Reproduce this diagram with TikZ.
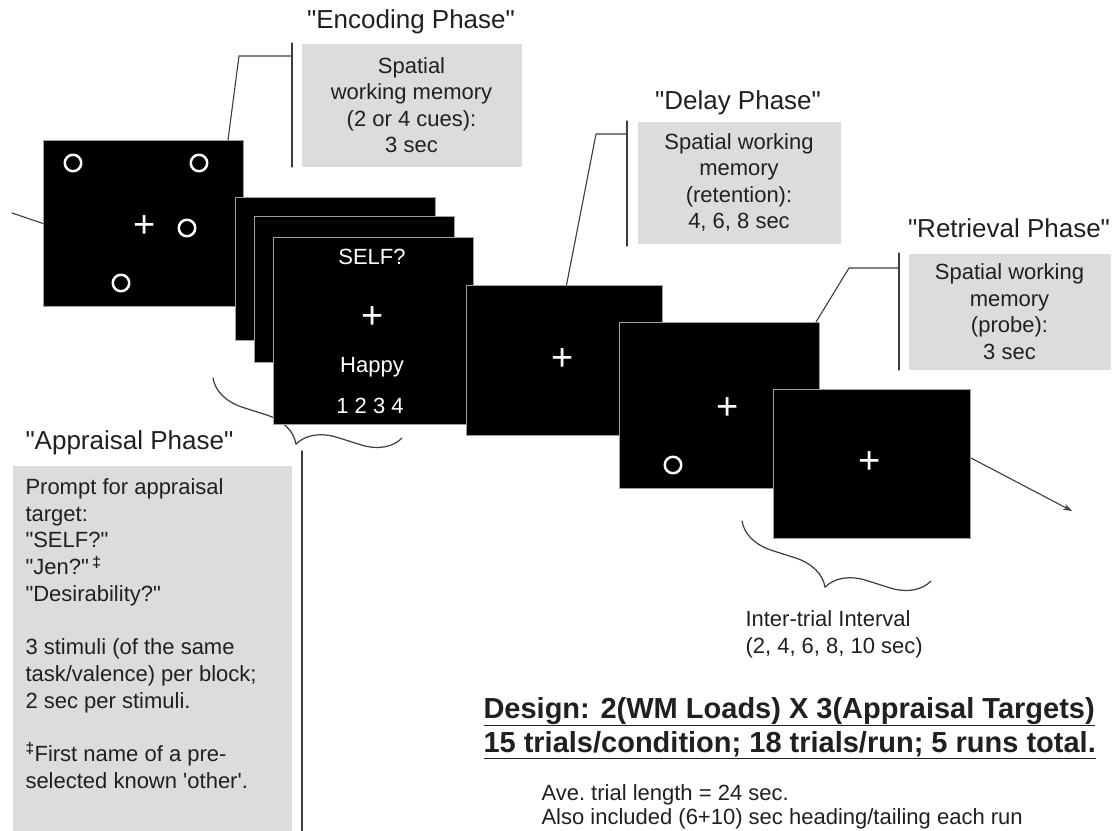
\documentclass[tikz,border=0pt]{standalone}
\usepackage{fontspec}
\setmainfont{Liberation Sans}[Ligatures=TeXOff]
\usetikzlibrary{positioning, arrows.meta, decorations.pathreplacing}
\definecolor{figink}{HTML}{202020}
\definecolor{figline}{HTML}{3C3C3C}
\definecolor{notefill}{HTML}{DCDCDC}
\definecolor{scredge}{HTML}{A0A0A0}

\begin{document}
\begin{tikzpicture}[
  x=1pt, y=-1pt,
  line width=1pt, line cap=round, line join=round,
  >={Stealth[length=9pt, width=6pt]},
  scr/.style  = {draw=scredge, fill=black, line width=1pt,
                 anchor=north west, inner sep=0pt},
  note/.style = {fill=notefill, anchor=north west, inner sep=0pt,
                 align=center, text=figink, font=\fontsize{22}{26.5}\selectfont},
  ttl/.style  = {text=figink, inner sep=0pt, font=\fontsize{26}{30}\selectfont},
  txt/.style  = {text=figink, inner sep=0pt, align=left,
                 font=\fontsize{22}{26.7}\selectfont},
  wtxt/.style = {text=white, inner sep=0pt, font=\fontsize{22}{26}\selectfont},
  fix/.style  = {text=white, inner sep=0pt, font=\fontsize{38}{38}\selectfont},
  cue/.style  = {circle, draw=white, line width=2.5pt, minimum size=16.5pt, inner sep=0pt},
  lead/.style = {draw=figline, line width=1.1pt},
  brc/.style  = {draw=figline, line width=1.2pt, decorate,
                 decoration={brace, amplitude=38pt}},
  big/.style  = {text=figink, inner sep=0pt, anchor=base west,
                 font=\fontsize{29}{34}\selectfont\bfseries}
]
\useasboundingbox (0,0) rectangle (1119,830);

% 括号（被屏幕遮住一部分）
\coordinate (bra) at (213,378);
\coordinate (brb) at (402,438);
\coordinate (bri) at (742,521);
\coordinate (brj) at (931,581);
\draw[brc] (brb) -- (bra);
\draw[brc] (brj) -- (bri);

% 编码屏
\node[scr, minimum width=200pt, minimum height=166pt] (enc) at (43,140) {};
\node[cue] (c1) at (73,163)  {};
\node[cue] (c2) at (199,163) {};
\node[cue] (c3) at (187,228) {};
\node[cue] (c4) at (121,283) {};
\node[fix] (f1) at (145,227) {+};

% 评价屏（三张叠放）
\node[scr, minimum width=200pt, minimum height=143pt] (app1) at (235,197) {};
\node[scr, minimum width=200pt, minimum height=146pt] (app2) at (254,216) {};
\node[scr, minimum width=200pt, minimum height=187pt] (app3) at (273,237) {};
\node[wtxt] (self) at (372,257) {SELF?};
\node[fix]  (f2)   at (373,318) {+};
\node[wtxt] (word) at (372,367) {Happy};
\node[wtxt] (rate) at (370,406) {1 2 3 4};

% 延迟、提取、间隔屏
\node[scr, minimum width=196pt, minimum height=150pt] (del) at (466,285) {};
\node[fix] (f3) at (563,360) {+};
\node[scr, minimum width=200pt, minimum height=166pt] (ret) at (619,322) {};
\node[fix] (f4) at (728,409) {+};
\node[cue] (c5) at (673,465) {};
\node[scr, minimum width=197pt, minimum height=149pt] (iti) at (773,389) {};
\node[fix] (f5) at (870,463) {+};

% 进出连线
\coordinate (prev) at (12,213);
\coordinate (next) at (1072,511);
\draw[lead] (prev) -- (enc.west);
\draw[lead, ->] ([yshift=6pt]iti.east) -- (next);

% 说明框
\node[ttl] (enct) at (411,22) {"Encoding Phase"};
\node[note, minimum width=220pt, minimum height=123pt] (encbox) at (301,43)
  {Spatial\\working memory\\(2 or 4 cues):\\3 sec};
\node[ttl] (delt) at (738,103) {"Delay Phase"};
\node[note, minimum width=203pt, minimum height=122pt] (delbox) at (637,121)
  {Spatial working\\memory\\(retention):\\4, 6, 8 sec};
\node[ttl] (rett) at (1009,228) {"Retrieval Phase"};
\node[note, minimum width=202pt, minimum height=116pt] (retbox) at (908,253)
  {Spatial working\\memory\\(probe):\\3 sec};

% 引线：屏幕 -> 竖线
\coordinate (encbar) at ([xshift=-9pt]encbox.north west);
\coordinate (delbar) at ([xshift=-10pt]delbox.north west);
\coordinate (retbar) at ([xshift=-9pt]retbox.north west);
\coordinate (encelb) at (239,56);
\coordinate (delelb) at (596,134);
\coordinate (retelb) at (849,268);
\draw[lead] (encbar) -- ([xshift=-9pt]encbox.south west);
\draw[lead] (delbar) -- ([xshift=-10pt, yshift=-2pt]delbox.south west);
\draw[lead] (retbar) -- ([xshift=-9pt]retbox.south west);
\draw[lead] ([xshift=-16pt]enc.north east) -- (encelb) -- (encelb -| encbar);
\draw[lead] ([xshift=2pt]del.north) -- (delelb) -- (delelb -| delbar);
\draw[lead] ([xshift=-4pt]ret.north east) -- (retelb) -- (retelb -| retbar);

% 评价阶段说明
\node[ttl, anchor=west] (appt) at (25,443) {"Appraisal Phase"};
\node[note, minimum width=279pt, minimum height=366pt] (appbox) at (12,465) {};
\node[txt, anchor=north west] (apptxt) at (25,478)
  {Prompt for appraisal\\target:\\"SELF?"\\"Jen?"\,\textsuperscript{\textbf{‡}}\\"Desirability?"\\[26.7pt]
   3 stimuli (of the same\\task/valence) per block;\\2 sec per stimuli.\\[26.7pt]
   \textsuperscript{\textbf{‡}}First name of a pre-\\selected known 'other'.};
\draw[lead] ([xshift=10pt, yshift=14pt]appbox.north east) -- ([xshift=10pt]appbox.south east);

% 间隔说明与设计
\node[txt, anchor=north west] (itit) at (745,610)
  {Inter-trial Interval\\(2, 4, 6, 8, 10 sec)};
\node[big] (des1) at (483,718) {\underline{Design: 2(WM Loads) X 3(Appraisal Targets)}};
\node[big] (des2) at (483,752) {\underline{15 trials/condition; 18 trials/run; 5 runs total.}};
\node[txt, anchor=base west] (ave)  at (541,800) {Ave.\ trial length = 24 sec.};
\node[txt, anchor=base west] (also) at (541,824) {Also included (6+10) sec heading/tailing each run};

\end{tikzpicture}
\end{document}
